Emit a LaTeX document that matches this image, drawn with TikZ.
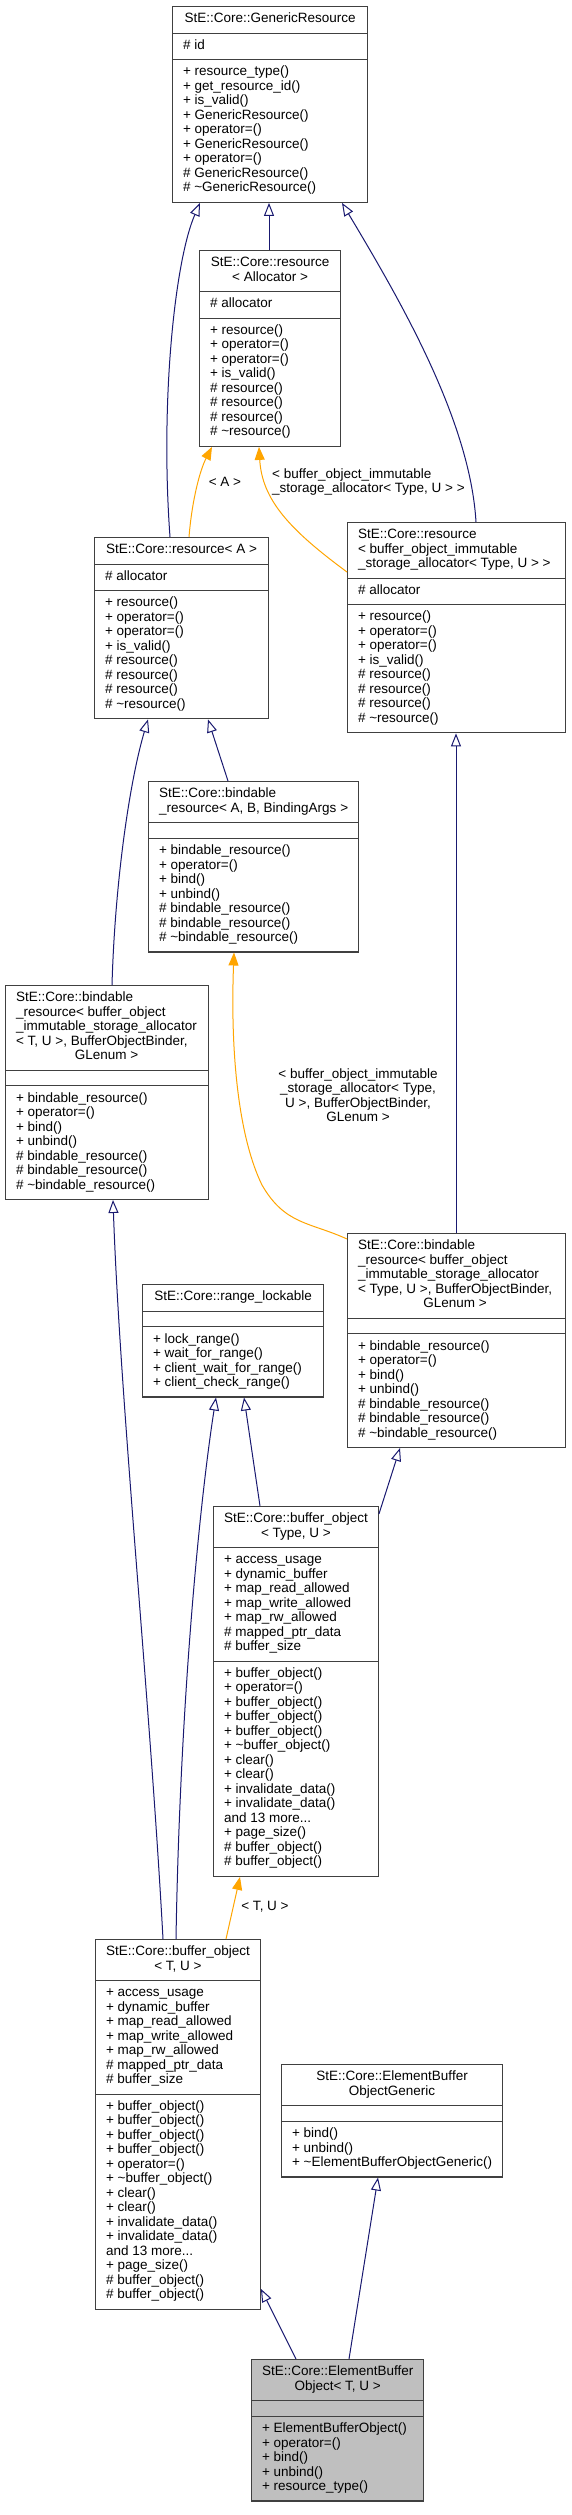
\documentclass[tikz,border=0pt]{standalone}
\usepackage{fontspec}
\setmainfont{Liberation Sans}
\usetikzlibrary{positioning,arrows.meta,shapes.multipart}
\definecolor{navy}{HTML}{191970}
\definecolor{dxorange}{HTML}{FFA500}
\definecolor{boxline}{HTML}{404040}
\newcommand{\lrows}[1]{\begin{tabular}{@{}l@{}}#1\end{tabular}}
\newcommand{\crows}[1]{\begin{tabular}{@{}c@{}}#1\end{tabular}}
\newcommand{\ctrline}[1]{\multicolumn{1}{@{}c@{}}{#1}}

\begin{document}
\begin{tikzpicture}[x=1pt,y=-1pt,
    cls/.style={rectangle split,rectangle split parts=3,draw=boxline,
      line width=1.1pt,fill=white,anchor=north west,
      inner xsep=10.5pt,inner ysep=5.5pt,
      font=\fontsize{13.5}{14.5}\selectfont,
      rectangle split part align={center,left,left}},
    lefthead/.style={rectangle split part align={left,left,left}},
    inh/.style={draw=navy,line width=1pt,
      -{Triangle[open,fill=white,length=13pt,width=10pt]}},
    tmpl/.style={draw=dxorange,line width=1pt,
      -{Triangle[length=13pt,width=10pt]}},
    lbl/.style={font=\fontsize{13.5}{14.5}\selectfont,inner sep=0pt}
  ]
  \useasboundingbox (0,0) rectangle (571,2515);
  \fill[white] (0,0) rectangle (571,2515);

  \node[cls,minimum width=195pt] (generic) at (172,6)
    {\crows{StE::Core::GenericResource}
     \nodepart{two}\lrows{\# id}
     \nodepart{three}\lrows{+ resource\_type()\\+ get\_resource\_id()\\
       + is\_valid()\\+ GenericResource()\\+ operator=()\\
       + GenericResource()\\+ operator=()\\\# GenericResource()\\
       \# \textasciitilde GenericResource()}};
  \node[cls,minimum width=141pt] (resAlloc) at (199,250)
    {\crows{StE::Core::resource\\< Allocator >}
     \nodepart{two}\lrows{\# allocator}
     \nodepart{three}\lrows{+ resource()\\+ operator=()\\+ operator=()\\
       + is\_valid()\\\# resource()\\\# resource()\\\# resource()\\
       \# \textasciitilde resource()}};
  \node[cls,minimum width=174pt] (resA) at (94,537)
    {\crows{StE::Core::resource< A >}
     \nodepart{two}\lrows{\# allocator}
     \nodepart{three}\lrows{+ resource()\\+ operator=()\\+ operator=()\\
       + is\_valid()\\\# resource()\\\# resource()\\\# resource()\\
       \# \textasciitilde resource()}};
  \node[cls,lefthead,minimum width=218pt] (resBuf) at (347,522)
    {\lrows{StE::Core::resource\\< buffer\_object\_immutable\\
       \_storage\_allocator< Type, U > >}
     \nodepart{two}\lrows{\# allocator}
     \nodepart{three}\lrows{+ resource()\\+ operator=()\\+ operator=()\\
       + is\_valid()\\\# resource()\\\# resource()\\\# resource()\\
       \# \textasciitilde resource()}};
  \node[cls,lefthead,minimum width=209pt] (bindAB) at (148,781)
    {\lrows{StE::Core::bindable\\\_resource< A, B, BindingArgs >}
     \nodepart{two}\lrows{}
     \nodepart{three}\lrows{+ bindable\_resource()\\+ operator=()\\
       + bind()\\+ unbind()\\\# bindable\_resource()\\
       \# bindable\_resource()\\\# \textasciitilde bindable\_resource()}};
  \node[cls,lefthead,minimum width=203pt] (bindTU) at (5,985)
    {\lrows{StE::Core::bindable\\\_resource< buffer\_object\\
       \_immutable\_storage\_allocator\\< T, U >, BufferObjectBinder,\\
       \ctrline{GLenum >}}
     \nodepart{two}\lrows{}
     \nodepart{three}\lrows{+ bindable\_resource()\\+ operator=()\\
       + bind()\\+ unbind()\\\# bindable\_resource()\\
       \# bindable\_resource()\\\# \textasciitilde bindable\_resource()}};
  \node[cls,lefthead,minimum width=218pt] (bindType) at (347,1233)
    {\lrows{StE::Core::bindable\\\_resource< buffer\_object\\
       \_immutable\_storage\_allocator\\< Type, U >, BufferObjectBinder,\\
       \ctrline{GLenum >}}
     \nodepart{two}\lrows{}
     \nodepart{three}\lrows{+ bindable\_resource()\\+ operator=()\\
       + bind()\\+ unbind()\\\# bindable\_resource()\\
       \# bindable\_resource()\\\# \textasciitilde bindable\_resource()}};
  \node[cls,minimum width=181pt] (rangeLock) at (142,1284)
    {\crows{StE::Core::range\_lockable}
     \nodepart{two}\lrows{}
     \nodepart{three}\lrows{+ lock\_range()\\+ wait\_for\_range()\\
       + client\_wait\_for\_range()\\+ client\_check\_range()}};
  \node[cls,minimum width=163pt] (bufType) at (213,1506)
    {\crows{StE::Core::buffer\_object\\< Type, U >}
     \nodepart{two}\lrows{+ access\_usage\\+ dynamic\_buffer\\
       + map\_read\_allowed\\+ map\_write\_allowed\\+ map\_rw\_allowed\\
       \# mapped\_ptr\_data\\\# buffer\_size}
     \nodepart{three}\lrows{+ buffer\_object()\\+ operator=()\\
       + buffer\_object()\\+ buffer\_object()\\+ buffer\_object()\\
       + \textasciitilde buffer\_object()\\+ clear()\\+ clear()\\
       + invalidate\_data()\\+ invalidate\_data()\\and 13 more...\\
       + page\_size()\\\# buffer\_object()\\\# buffer\_object()}};
  \node[cls,minimum width=162pt] (bufTU) at (95,1939)
    {\crows{StE::Core::buffer\_object\\< T, U >}
     \nodepart{two}\lrows{+ access\_usage\\+ dynamic\_buffer\\
       + map\_read\_allowed\\+ map\_write\_allowed\\+ map\_rw\_allowed\\
       \# mapped\_ptr\_data\\\# buffer\_size}
     \nodepart{three}\lrows{+ buffer\_object()\\+ buffer\_object()\\
       + buffer\_object()\\+ buffer\_object()\\+ operator=()\\
       + \textasciitilde buffer\_object()\\+ clear()\\+ clear()\\
       + invalidate\_data()\\+ invalidate\_data()\\and 13 more...\\
       + page\_size()\\\# buffer\_object()\\\# buffer\_object()}};
  \node[cls,minimum width=219pt] (ebGeneric) at (281,2064)
    {\crows{StE::Core::ElementBuffer\\ObjectGeneric}
     \nodepart{two}\lrows{}
     \nodepart{three}\lrows{+ bind()\\+ unbind()\\
       + \textasciitilde ElementBufferObjectGeneric()}};
  \node[cls,fill=black!25,minimum width=170pt] (ebObject) at (251,2359)
    {\crows{StE::Core::ElementBuffer\\Object< T, U >}
     \nodepart{two}\lrows{}
     \nodepart{three}\lrows{+ ElementBufferObject()\\+ operator=()\\
       + bind()\\+ unbind()\\+ resource\_type()}};

  \draw[inh] ([xshift=76pt]resA.north west) .. controls (160,400) and (175,260)
    .. ([xshift=28pt]generic.south west);
  \draw[inh] ([xshift=70pt]resAlloc.north west) -- ([xshift=97pt]generic.south west);
  \draw[inh] ([xshift=129pt]resBuf.north west) .. controls (470,420) and (400,300)
    .. ([xshift=170pt]generic.south west);
  \draw[tmpl] ([xshift=95pt]resA.north west) .. controls (192,500) and (200,470)
    .. ([xshift=13pt]resAlloc.south west);
  \draw[tmpl] ([yshift=-50pt]resBuf.north west) .. controls (290,530) and (262,500)
    .. ([xshift=60pt]resAlloc.south west);
  \draw[inh] ([xshift=107pt]bindTU.north west) .. controls (115,880) and (130,780)
    .. ([xshift=54pt]resA.south west);
  \draw[inh] ([xshift=80pt]bindAB.north west) -- ([xshift=114pt]resA.south west);
  \draw[tmpl] ([yshift=-6pt]bindType.north west) .. controls (310,1222) and (285,1225)
    .. (262,1185) .. controls (240,1140) and (230,1060)
    .. ([xshift=86pt]bindAB.south west);
  \draw[inh] ([xshift=109pt]bindType.north west) -- ([xshift=109pt]resBuf.south west);
  \draw[inh] ([xshift=68pt]bufTU.north west) .. controls (150,1700) and (120,1400)
    .. ([xshift=108pt]bindTU.south west);
  \draw[inh] ([xshift=81pt]bufTU.north west) .. controls (180,1700) and (200,1500)
    .. ([xshift=74pt]rangeLock.south west);
  \draw[inh] ([xshift=47pt]bufType.north west) -- ([xshift=102pt]rangeLock.south west);
  \draw[inh] ([yshift=-8pt]bufType.north east) -- ([xshift=53pt]bindType.south west);
  \draw[tmpl] ([xshift=131pt]bufTU.north west) -- ([xshift=27pt]bufType.south west);
  \draw[inh] ([xshift=45pt]ebObject.north west) -- ([yshift=21pt]bufTU.south east);
  \draw[inh] ([xshift=98pt]ebObject.north west) -- ([xshift=97pt]ebGeneric.south west);

  \node[lbl] (lblA) at (225,482) {< A >};
  \node[lbl,align=left,anchor=west] (lblBuf) at (272,482)
    {< buffer\_object\_immutable\\\_storage\_allocator< Type, U > >};
  \node[lbl,align=center] (lblBind) at (358,1095)
    {< buffer\_object\_immutable\\\_storage\_allocator< Type,\\
     U >, BufferObjectBinder,\\GLenum >};
  \node[lbl] (lblTU) at (265,1907) {< T, U >};
\end{tikzpicture}
\end{document}
